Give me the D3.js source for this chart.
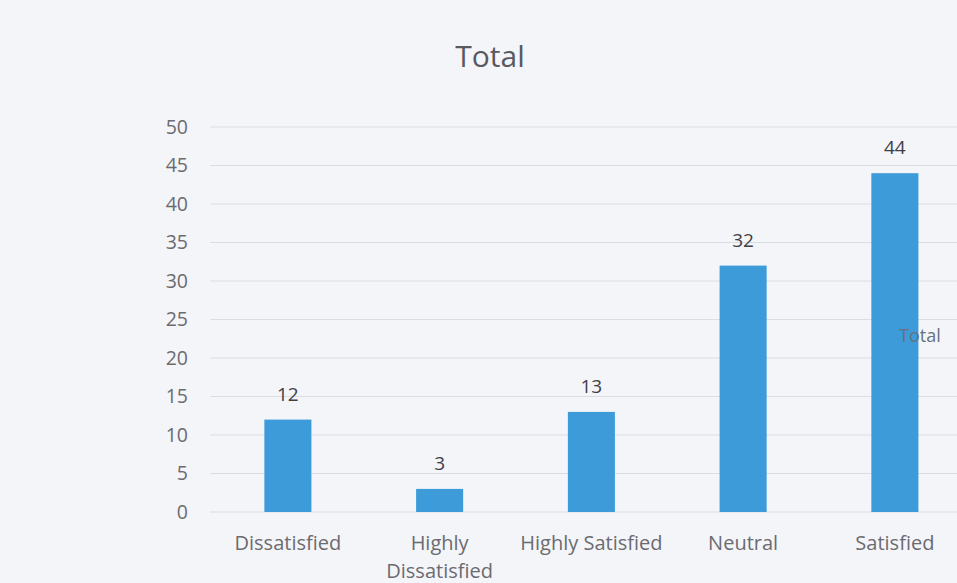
<!DOCTYPE html>
<html><head><meta charset="utf-8">
<script src="https://cdn.jsdelivr.net/npm/d3@7"></script>
<style>
html,body{margin:0;padding:0;background:#f4f5f9;}
svg{display:block;}
</style></head>
<body>
<svg id="chart" width="957" height="583"></svg>
<script>
const categories = ["Dissatisfied", "Highly Dissatisfied", "Highly Satisfied", "Neutral", "Satisfied"];
const categoryLines = [["Dissatisfied"], ["Highly", "Dissatisfied"], ["Highly Satisfied"], ["Neutral"], ["Satisfied"]];
const values = [12, 3, 13, 32, 44];
const yTicks = [0, 5, 10, 15, 20, 25, 30, 35, 40, 45, 50];
const title = "Total";
const seriesName = "Total";

const svg = d3.select("#chart");
const font = "'Open Sans', 'Noto Sans', sans-serif";
const W = 957, H = 583;

svg.append("rect").attr("width", W).attr("height", H).attr("fill", "#f4f5f9");

const x = d3.scaleBand().domain(categories).range([212, 970.75]).paddingInner(0.69).paddingOuter(0.345);
const y = d3.scaleLinear().domain([0, 50]).range([512, 127]);

// gridlines
svg.append("g").selectAll("line").data(yTicks).join("line")
  .attr("x1", 210).attr("x2", W)
  .attr("y1", d => y(d)).attr("y2", d => y(d))
  .attr("stroke", "#dcdde3").attr("stroke-width", 1);

// y axis labels
const yAxis = d3.axisLeft(y).tickValues(yTicks).tickSize(0).tickPadding(0);
const ya = svg.append("g").attr("transform", "translate(188,0)").call(yAxis);
ya.select(".domain").remove();
ya.selectAll("text").attr("font-family", font).attr("font-size", 19.5).attr("fill", "#6b6b70").attr("text-anchor", "end");

// bars
svg.append("g").selectAll("rect").data(values).join("rect")
  .attr("x", (d, i) => x(categories[i]))
  .attr("width", x.bandwidth())
  .attr("y", d => y(d))
  .attr("height", d => y(0) - y(d))
  .attr("fill", "#3c9bd8");

// value labels
svg.append("g").selectAll("text").data(values).join("text")
  .attr("x", (d, i) => x(categories[i]) + x.bandwidth() / 2)
  .attr("y", d => y(d) - 19)
  .attr("text-anchor", "middle")
  .attr("font-family", font).attr("font-size", 19).attr("fill", "#3f3f44")
  .text(d => d);

// category labels
const xa = svg.append("g");
categories.forEach((c, i) => {
  const t = xa.append("text")
    .attr("x", x(c) + x.bandwidth() / 2)
    .attr("y", 550)
    .attr("text-anchor", "middle")
    .attr("font-family", font).attr("font-size", 20).attr("fill", "#6b6b70");
  categoryLines[i].forEach((line, j) => {
    t.append("tspan").attr("x", x(c) + x.bandwidth() / 2).attr("dy", j === 0 ? 0 : 28).text(line);
  });
});

// title
svg.append("text").attr("x", 490).attr("y", 67).attr("text-anchor", "middle")
  .attr("font-family", font).attr("font-size", 30).attr("fill", "#595960").text(title);

// legend
svg.append("text").attr("x", 899).attr("y", 342)
  .attr("font-family", font).attr("font-size", 18).attr("fill", "#66727e").text(seriesName);
</script>
</body></html>
